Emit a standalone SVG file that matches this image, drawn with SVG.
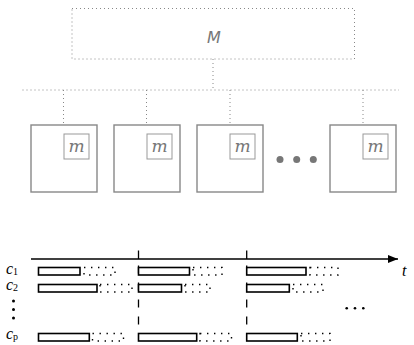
<svg xmlns="http://www.w3.org/2000/svg" width="414" height="345" viewBox="0 0 414 345">
<defs>
<style>
.dot{fill:none;stroke:#888;stroke-width:1;stroke-dasharray:1 3}
.w{fill:#fff;stroke:#888;stroke-width:1.4}
.m{fill:#fff;stroke:#999;stroke-width:1}
.lm{font-family:"DejaVu Serif","Liberation Serif",serif;font-style:italic;fill:#777;font-size:17px;text-anchor:middle}
.lM{font-family:"DejaVu Sans","Liberation Sans",sans-serif;font-style:italic;fill:#777;font-size:16px;text-anchor:middle}
.gd{fill:#777}
.bar{fill:#fff;stroke:#000;stroke-width:1.6}
.trail{fill:none;stroke:#000;stroke-width:1.4;stroke-dasharray:1.4 5.6}
.ax{stroke:#000;stroke-width:1.3;fill:none}
.dash{stroke:#000;stroke-width:1.3;stroke-dasharray:8 9;fill:none}
.lab{font-family:"Liberation Serif","DejaVu Serif",serif;font-style:italic;fill:#000;font-size:16px}
.sub{font-size:10px;font-style:normal}
</style>
<marker id="ah" viewBox="0 0 10 8" refX="10" refY="4" markerWidth="10" markerHeight="8" markerUnits="userSpaceOnUse" orient="auto"><path d="M0,0 L10,4 L0,8 z" fill="#000"/></marker>
</defs>
<g id="master">
<rect class="dot" x="72" y="8.5" width="282.5" height="50.5"/>
<text class="lM" x="214" y="43">M</text>
</g>
<g id="connectors">
<line class="dot" x1="213" y1="59" x2="213" y2="90"/>
<line class="dot" x1="22.5" y1="90" x2="399" y2="90"/>
<line class="dot" x1="63.5" y1="90" x2="63.5" y2="125"/>
<line class="dot" x1="146.5" y1="90" x2="146.5" y2="125"/>
<line class="dot" x1="230" y1="90" x2="230" y2="125"/>
<line class="dot" x1="363" y1="90" x2="363" y2="125"/>
</g>
<g id="worker1"><rect class="w" x="31" y="125" width="66" height="67"/><rect class="m" x="64" y="134" width="25" height="25"/><text class="lm" x="76.5" y="151.5">m</text></g>
<g id="worker2"><rect class="w" x="114" y="125" width="66" height="67"/><rect class="m" x="147" y="134" width="25" height="25"/><text class="lm" x="159.5" y="151.5">m</text></g>
<g id="worker3"><rect class="w" x="197" y="125" width="66" height="67"/><rect class="m" x="230" y="134" width="25" height="25"/><text class="lm" x="242.5" y="151.5">m</text></g>
<g id="ellipsis"><circle class="gd" cx="280" cy="159.5" r="3.5"/><circle class="gd" cx="296.7" cy="159.5" r="3.5"/><circle class="gd" cx="313.3" cy="159.5" r="3.5"/></g>
<g id="worker4"><rect class="w" x="330" y="125" width="66" height="67"/><rect class="m" x="363" y="134" width="25" height="25"/><text class="lm" x="375.5" y="151.5">m</text></g>
<g id="timeline">
<line class="ax" x1="31" y1="259" x2="398" y2="259" marker-end="url(#ah)"/>
<line class="ax" x1="138.5" y1="250.5" x2="138.5" y2="259"/>
<line class="ax" x1="246.7" y1="250.5" x2="246.7" y2="259"/>
<line class="dash" x1="138.5" y1="265.5" x2="138.5" y2="333"/>
<line class="dash" x1="246.7" y1="265.5" x2="246.7" y2="333"/>
<text class="lab" x="402" y="276" font-size="20">t</text>
</g>
<g id="labels">
<text class="lab" x="6" y="274">c<tspan class="sub" dy="1">1</tspan></text>
<text class="lab" x="6" y="290">c<tspan class="sub" dy="1">2</tspan></text>
<text class="lab" x="6" y="339">c<tspan class="sub" dy="1">p</tspan></text>
<circle cx="13.5" cy="301" r="1.5"/><circle cx="13.5" cy="309.5" r="1.5"/><circle cx="13.5" cy="318" r="1.5"/>
<circle cx="346.7" cy="308.3" r="1.3"/><circle cx="355" cy="308.3" r="1.3"/><circle cx="363.3" cy="308.3" r="1.3"/>
</g>
<g id="row-c1">
<rect class="bar" x="38.5" y="267.5" width="41.5" height="7.5"/><rect class="trail" x="84" y="267.5" width="31" height="7.5"/>
<rect class="bar" x="138.5" y="267.5" width="51" height="7.5"/><rect class="trail" x="193" y="267.5" width="29" height="7.5"/>
<rect class="bar" x="246.7" y="267.5" width="59.3" height="7.5"/><rect class="trail" x="310" y="267.5" width="28" height="7.5"/>
</g>
<g id="row-c2">
<rect class="bar" x="38.5" y="284.5" width="58.5" height="7.5"/><rect class="trail" x="100" y="284.5" width="32" height="7.5"/>
<rect class="bar" x="138.5" y="284.5" width="43" height="7.5"/><rect class="trail" x="185" y="284.5" width="25" height="7.5"/>
<rect class="bar" x="246.7" y="284.5" width="42.6" height="7.5"/><rect class="trail" x="293" y="284.5" width="30" height="7.5"/>
</g>
<g id="row-cp">
<rect class="bar" x="38.5" y="333.5" width="50.8" height="7.5"/><rect class="trail" x="92.5" y="333.5" width="31" height="7.5"/>
<rect class="bar" x="138.5" y="333.5" width="58.2" height="7.5"/><rect class="trail" x="200" y="333.5" width="31.5" height="7.5"/>
<rect class="bar" x="246.7" y="333.5" width="50.6" height="7.5"/><rect class="trail" x="301" y="333.5" width="29" height="7.5"/>
</g>
</svg>
